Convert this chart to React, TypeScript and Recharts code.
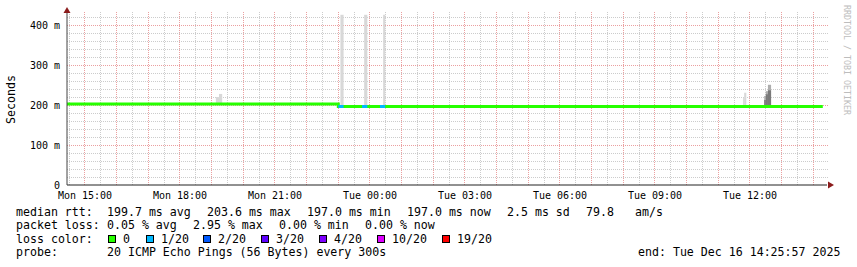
import { ComposedChart, Line, Area, XAxis, YAxis } from 'recharts';

// all times are minutes since Mon 00:00
const START = 865.95; // Mon 14:25:57
const END = 2305.95; // Tue 14:25:57
const Y_MAX = 435;

const xTickTimes = [900, 1080, 1260, 1440, 1620, 1800, 1980, 2160];
const xTickLabels = ['Mon 15:00', 'Mon 18:00', 'Mon 21:00', 'Tue 00:00', 'Tue 03:00', 'Tue 06:00', 'Tue 09:00', 'Tue 12:00'];
const yTicks = [0, 100, 200, 300, 400];
const yTickLabels = ['0', '100 m', '200 m', '300 m', '400 m'];

// median rtt in ms (steps)
const medianTimes = [866, 1380, 2298];
const medianMs = [203.4, 197.4, 197.4];

// intervals with 1/20 packet loss
const lossStart = [1380, 1425, 1459];
const lossEnd = [1390, 1435, 1469];

// smoke: spread of the pings above the median
const lightStart = [1148, 1154, 1384, 1429, 1465, 2147, 2149];
const lightEnd = [1154, 1160, 1390, 1435, 1469, 2149, 2153];
const lightMax = [221, 229, 428, 428, 428, 220, 232];

const midStart = [2187, 2190, 2194];
const midEnd = [2190, 2194, 2200];
const midMax = [224, 236, 252];

const darkStart = [2187, 2190, 2194];
const darkEnd = [2190, 2194, 2200];
const darkMax = [214, 228, 238];

// legend
const rttTexts = ['median rtt:', '199.7 ms avg', '203.6 ms max', '197.0 ms min', '197.0 ms now', '2.5 ms sd', '79.8', 'am/s'];
const plTexts = ['packet loss:', '0.05 % avg', '2.95 % max', '0.00 % min', '0.00 % now'];
const lossLabels = ['0', '1/20', '2/20', '3/20', '4/20', '10/20', '19/20'];
const lossColors = ['#26ff00', '#00b8ff', '#0059ff', '#5e00ff', '#7e00ff', '#dd00ff', '#ff0000'];
const probeText = '20 ICMP Echo Pings (56 Bytes) every 300s';
const endText = 'end: Tue Dec 16 14:25:57 2025';

const rttX = [16, 107, 207, 307, 407, 507, 586, 635];
const plX = [16, 107, 193, 279, 365];
const swatchX = [108, 146, 203, 261, 319, 377, 442];

const MONO = 'DejaVu Sans Mono';
const MINOR = '#cccccc';
const MAJOR = '#eba0a0';

// plot box (matches the chart margins below)
const PL = 67;
const PT = 12;
const PW = 760;
const PH = 173;

function medianAt(t: number) {
  let v = medianMs[0];
  medianTimes.forEach((mt, i) => {
    if (t >= mt) v = medianMs[i];
  });
  return v;
}

const medianData = medianTimes.map((t, i) => ({ t, v: medianMs[i] }));

const lossData = lossStart.flatMap((s, i) => [
  { t: s, v: medianAt(s) },
  { t: lossEnd[i], v: medianAt(s) },
  { t: lossEnd[i], v: null },
]);

function smokeBlocks(starts: number[], ends: number[], maxes: number[]) {
  return starts.map((s, i) => {
    const lo = medianAt(s);
    return [
      { t: s, r: [lo, maxes[i]] },
      { t: ends[i], r: [lo, maxes[i]] },
    ];
  });
}

const lightSmoke = smokeBlocks(lightStart, lightEnd, lightMax);
const midSmoke = smokeBlocks(midStart, midEnd, midMax);
const darkSmoke = smokeBlocks(darkStart, darkEnd, darkMax);

// background grid: every 30 min / 20 ms, full hours and 100 ms in red
const gridX: number[] = [];
for (let t = 870; t < END; t += 30) gridX.push(t);
const gridY: number[] = [];
for (let v = 20; v < Y_MAX; v += 20) gridY.push(v);

const crisp = (c: number) => Math.floor(c) + 0.5;
const gx = (t: number) => crisp(PL + (PW * (t - START)) / (END - START));
const gy = (v: number) => crisp(PT + PH * (1 - v / Y_MAX));

// dotted horizontal rule made of 1px squares
function HDots({ y, color }: { y: number; color: string }) {
  return <path d={`M${PL} ${y}H${PL + PW + 1}`} stroke={color} strokeWidth={1} strokeDasharray="1 1" shapeRendering="crispEdges" />;
}

export default function App() {
  return (
    <div style={{ position: 'absolute', left: 0, top: 0, width: 857, height: 267, background: '#fff' }}>
      <svg width={857} height={267} style={{ position: 'absolute', left: 0, top: 0 }}>
        {gridY.map((v) => (
          <HDots key={'h' + v} y={gy(v)} color={v % 100 === 0 ? MAJOR : MINOR} />
        ))}
        {gridX.map((t) => (
          <path
            key={'v' + t}
            d={`M${gx(t)} ${PT}V${PT + PH}`}
            stroke={t % 60 === 0 ? MAJOR : MINOR}
            strokeWidth={1}
            strokeDasharray="1 1"
            shapeRendering="crispEdges"
          />
        ))}
      </svg>

      <div style={{ position: 'absolute', left: 0, top: 0 }}>
        <ComposedChart width={857} height={267} margin={{ top: PT, right: 857 - PL - PW, bottom: 62, left: 0 }}>
          <XAxis
            type="number"
            dataKey="t"
            domain={[START, END]}
            ticks={xTickTimes}
            tickFormatter={(v: number) => xTickLabels[xTickTimes.indexOf(v)] ?? ''}
            height={20}
            tickLine={false}
            tickSize={3}
            tickMargin={4}
            axisLine={{ stroke: '#222' }}
            tick={{ fill: '#000', fontSize: 10, fontFamily: MONO }}
            allowDataOverflow
          />
          <YAxis
            type="number"
            domain={[0, Y_MAX]}
            ticks={yTicks}
            tickFormatter={(v: number) => yTickLabels[yTicks.indexOf(v)] ?? ''}
            width={PL}
            tickLine={false}
            tickSize={5}
            tickMargin={2}
            axisLine={{ stroke: '#444' }}
            tick={{ fill: '#000', fontSize: 10, fontFamily: MONO }}
            allowDataOverflow
          />
          {lightSmoke.map((d, i) => (
            <Area key={'l' + i} data={d} dataKey="r" type="linear" stroke="none" fill="#d8d8d8" fillOpacity={1} isAnimationActive={false} />
          ))}
          {midSmoke.map((d, i) => (
            <Area key={'m' + i} data={d} dataKey="r" type="linear" stroke="none" fill="#adadad" fillOpacity={1} isAnimationActive={false} />
          ))}
          {darkSmoke.map((d, i) => (
            <Area key={'d' + i} data={d} dataKey="r" type="linear" stroke="none" fill="#7a7a7a" fillOpacity={1} isAnimationActive={false} />
          ))}
          <Line data={medianData} dataKey="v" type="stepAfter" stroke={lossColors[0]} strokeWidth={3} dot={false} isAnimationActive={false} />
          <Line data={lossData} dataKey="v" type="linear" stroke={lossColors[1]} strokeWidth={3} dot={false} connectNulls={false} isAnimationActive={false} />
        </ComposedChart>
      </div>

      <svg width={857} height={267} style={{ position: 'absolute', left: 0, top: 0, pointerEvents: 'none' }} fontFamily={MONO}>
        {/* axis arrows */}
        <polygon points="67,7 63.5,13 70.5,13" fill="#8b1c1c" />
        <polygon points="834,185 828,181.5 828,188.5" fill="#8b1c1c" />

        <text x={14.5} y={99.5} fontSize={11.6} textAnchor="middle" transform="rotate(-90 14.5 99.5)" fill="#000">
          Seconds
        </text>
        <text x={844} y={60} fontSize={8.3} textAnchor="middle" transform="rotate(90 844 60)" fill="#bdbdbd">
          RRDTOOL / TOBI OETIKER
        </text>

        <g fontSize={11.6} fill="#000" style={{ whiteSpace: 'pre' }}>
          {rttTexts.map((s, i) => (
            <text key={'r' + i} x={rttX[i]} y={215.5}>{s}</text>
          ))}
          {plTexts.map((s, i) => (
            <text key={'p' + i} x={plX[i]} y={229}>{s}</text>
          ))}
          <text x={16} y={242.7}>loss color:</text>
          {lossLabels.map((s, i) => (
            <g key={'c' + i}>
              <rect x={swatchX[i] + 0.5} y={235.5} width={7} height={7} fill={lossColors[i]} stroke="#000" strokeWidth={1} />
              <text x={swatchX[i] + 15} y={242.7}>{s}</text>
            </g>
          ))}
          <text x={16} y={256}>probe:</text>
          <text x={107} y={256}>{probeText}</text>
          <text x={638} y={256}>{endText}</text>
        </g>
      </svg>
    </div>
  );
}
